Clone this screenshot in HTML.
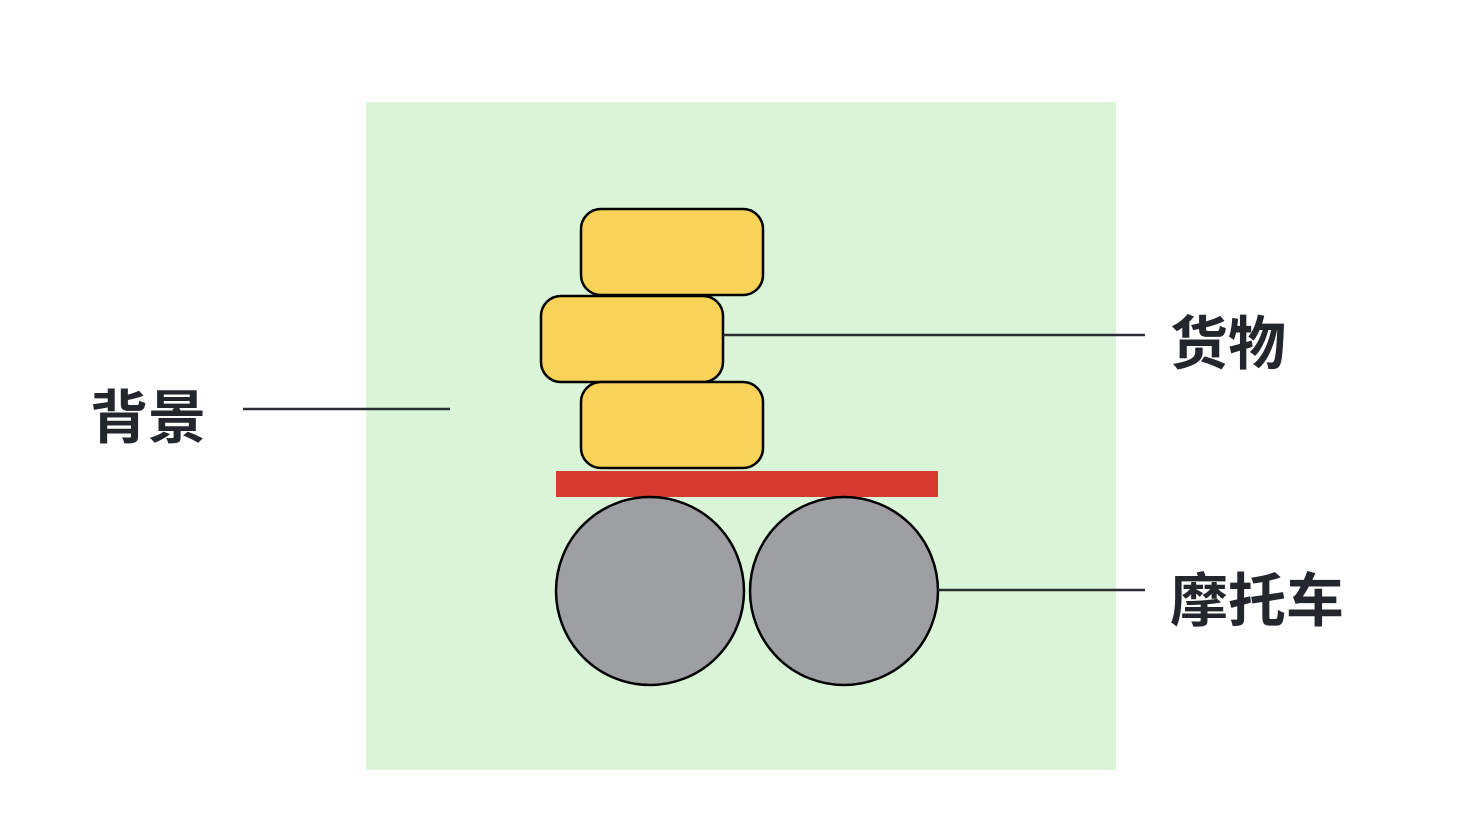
<!DOCTYPE html>
<html><head><meta charset="utf-8"><style>
html,body{margin:0;padding:0;background:#fff;}
body{width:1481px;height:834px;overflow:hidden;}
</style></head><body>
<svg width="1481" height="834" xmlns="http://www.w3.org/2000/svg">
<rect x="366" y="102" width="750" height="668" fill="#d9f4d7"/>
<rect x="581" y="209" width="182" height="86" rx="20" fill="#f9d357" stroke="#000" stroke-width="2.5"/>
<rect x="541" y="296" width="182" height="86" rx="20" fill="#f9d357" stroke="#000" stroke-width="2.5"/>
<rect x="581" y="382" width="182" height="86" rx="20" fill="#f9d357" stroke="#000" stroke-width="2.5"/>
<rect x="556" y="471" width="382" height="26" fill="#d63a30"/>
<circle cx="650" cy="591" r="94" fill="#9d9fa3" stroke="#000" stroke-width="2.5"/>
<circle cx="844" cy="591" r="94" fill="#9d9fa3" stroke="#000" stroke-width="2.5"/>
<line x1="243" y1="409" x2="450" y2="409" stroke="#2a2e33" stroke-width="2.5"/>
<line x1="723" y1="335" x2="1145" y2="335" stroke="#2a2e33" stroke-width="2.5"/>
<line x1="938" y1="590" x2="1145" y2="590" stroke="#2a2e33" stroke-width="2.5"/>
<g font-family="'Liberation Sans','Noto Sans CJK SC',sans-serif" font-weight="bold" font-size="58" fill="#23272d">
<text x="90" y="438">背景</text>
<text x="1170" y="364">货物</text>
<text x="1170" y="621">摩托车</text>
</g>
</svg>
</body></html>
